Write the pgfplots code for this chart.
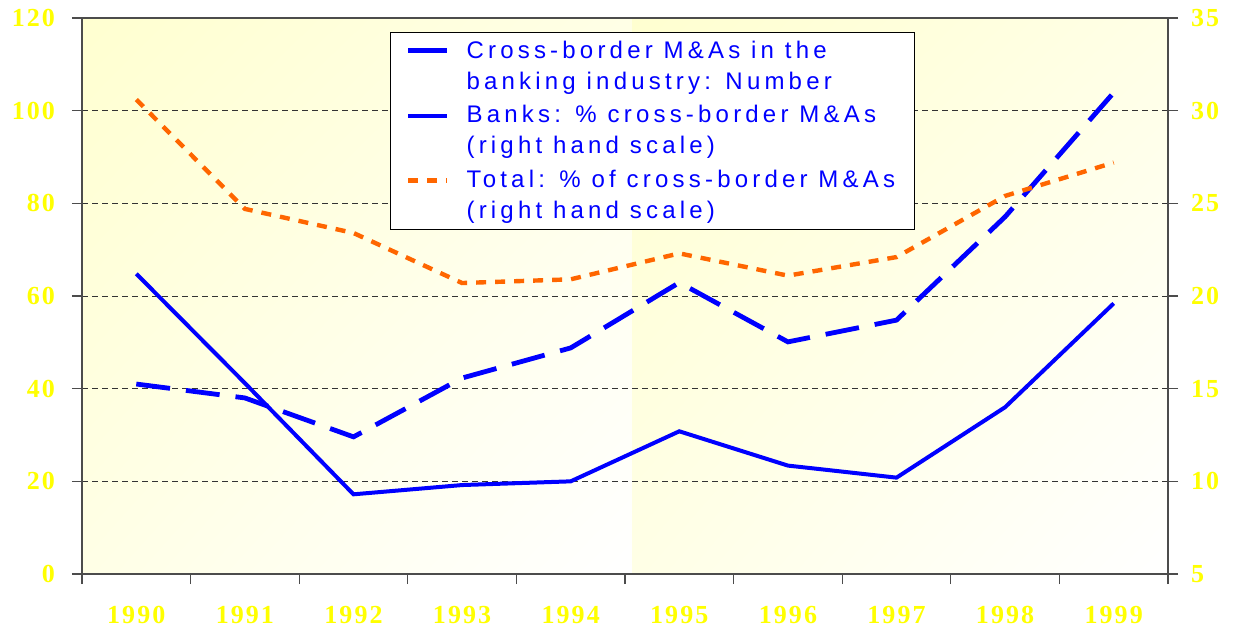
\documentclass[border=0pt]{standalone}
\usepackage{fontspec}
\setmainfont{Liberation Serif}
\usepackage{pgfplots}
\usepackage{pgfplotstable}
\usetikzlibrary{shadings}
\pgfplotsset{compat=1.18}
\newfontfamily\tickfont[LetterSpace=8]{Liberation Serif}
\newfontfamily\legfont[LetterSpace=17.5]{Liberation Sans}
\definecolor{bblue}{RGB}{0,0,255}
\definecolor{morange}{RGB}{255,102,0}
\definecolor{tyellow}{RGB}{255,255,0}
\definecolor{bgy}{RGB}{255,255,208}
\definecolor{bgm}{RGB}{255,255,230}

\pgfplotstableread{
x num banks total
0 41.0 21.2 30.6
1 38.0 15.3 24.7
2 29.6 9.3 23.4
3 42.3 9.8 20.7
4 48.8 10.0 20.9
5 62.9 12.7 22.3
6 50.1 10.85 21.1
7 54.8 10.2 22.1
8 77.1 14.0 25.4
9 103.9 19.6 27.2
}\data

\begin{document}
\begin{tikzpicture}
\useasboundingbox (-41pt,-27.5pt) rectangle (577pt,287pt);
% plot-area background panels (axis box is 543pt x 278pt, lower left at origin)
\shade[upper left=bgy, upper right=bgm, lower left=bgm, lower right=white] (0pt,0pt) rectangle (275.3pt,278pt);
\shade[upper left=bgy, upper right=bgm, lower left=bgm, lower right=white] (275.3pt,0pt) rectangle (543pt,278pt);
\pgfplotsset{
  common/.style={
    scale only axis,
    width=543pt, height=278pt,
    xmin=-0.5, xmax=9.5,
    tick align=outside,
    major tick length=5pt,
    axis line style={draw=black!70, line width=0.6pt},
    every tick/.style={draw=black!70, line width=0.6pt},
    tick label style={font=\tickfont\bfseries\fontsize{13}{15}\selectfont, text=tyellow},
  }
}
\begin{axis}[common,
  ymin=0, ymax=120,
  ytick={0,20,40,60,80,100,120},
  yticklabels={0,20,40,60,80,100,120},
  ytick pos=left, xtick pos=left,
  yticklabel style={xshift=-5pt},
  xtick={-0.5,0.5,1.5,2.5,3.5,4.5,5.5,6.5,7.5,8.5,9.5},
  xticklabels={},
  extra x ticks={0,1,2,3,4,5,6,7,8,9},
  extra x tick labels={1990,1991,1992,1993,1994,1995,1996,1997,1998,1999},
  extra x tick style={major tick length=0pt, xticklabel style={yshift=-12.5pt}},
  ymajorgrids,
  grid style={dash pattern=on 3pt off 2pt, black!80, line width=0.5pt},
]
\addplot[bblue, line width=2.4pt, dash pattern=on 17pt off 8pt] table[x=x, y=num] {\data};
\end{axis}
\begin{axis}[common,
  ymin=5, ymax=35,
  axis x line=none,
  axis y line*=right,
  ytick={5,10,15,20,25,30,35},
  yticklabels={5,10,15,20,25,30,35},
  yticklabel style={xshift=3pt},
  legend style={at={(rel axis cs:0.2836,0.9748)}, anchor=north west,
    draw=black, line width=0.6pt, fill=white,
    font=\legfont\fontsize{12}{15.5}\selectfont, text=bblue,
    inner xsep=7.5pt, row sep=2.75pt,
    cells={anchor=west, align=left}},
  legend image code/.code={\draw[#1, overlay] (0pt,7.75pt) -- (19.5pt,7.75pt);
     \path (0pt,0pt) (26pt,0pt);},
]
\addlegendimage{bblue, line width=2.5pt}
\addlegendentry{Cross-border M\&As in the\\banking industry: Number}
\addplot[bblue, line width=2pt] table[x=x, y=banks] {\data};
\addlegendentry{Banks: \% cross-border M\&As\\(right hand scale)}
\addplot[morange, line width=2.2pt, dash pattern=on 5pt off 4.5pt] table[x=x, y=total] {\data};
\addlegendentry{Total: \% of cross-border M\&As\\(right hand scale)}
\end{axis}
\end{tikzpicture}
\end{document}
